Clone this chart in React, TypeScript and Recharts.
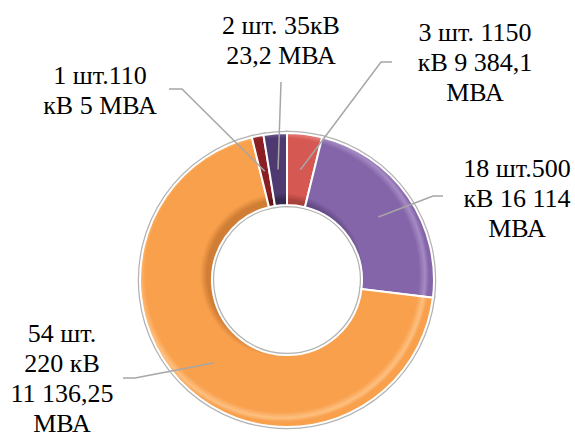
import React from 'react';
import { PieChart, Pie, Cell } from 'recharts';

// Categories (slice order, clockwise from 12 o'clock)
const categories = ['1150 кВ', '500 кВ', '220 кВ', '110 кВ', '35 кВ'];
// Number of units (drives slice size)
const counts = [3, 18, 54, 1, 2];
// Label text lines
const labelLines = [
  ['3 шт. 1150', 'кВ 9 384,1', 'МВА'],
  ['18 шт.500', 'кВ 16 114', 'МВА'],
  ['54 шт.', '220 кВ', '11 136,25', 'МВА'],
  ['1 шт.110', 'кВ 5 МВА'],
  ['2 шт. 35кВ', '23,2 МВА'],
];
const colors = ['#D65853', '#8565A9', '#F9A04D', '#8B1E22', '#4E3A70'];
const darkColors = ['#A8403C', '#634A85', '#D07E35', '#641417', '#37284F'];
const lightColors = ['#E98581', '#A58BC4', '#FDC080', '#B0474A', '#7A66A0'];

// Label layout (text center x, first baseline y, elbow, end of leader)
const labelLayout = [
  { tx: 475, ty: 41, ex: 381, ey: 62, hx: 392 },
  { tx: 517, ty: 177, ex: 433, ey: 196, hx: 443 },
  { tx: 62, ty: 342, ex: 135, ey: 378, hx: 123 },
  { tx: 100, ty: 84, ex: 182, ey: 89, hx: 169 },
  { tx: 281, ty: 34, ex: 281, ey: 82, hx: 281 },
];

const data = categories.map((c, i) => ({ name: c, count: counts[i] }));

const RAD = Math.PI / 180;
const FONT = 'Liberation Serif, Times New Roman, serif';

const renderLabel = (props: any) => {
  const { cx, cy, midAngle, innerRadius, outerRadius, index } = props;
  const r = (innerRadius + outerRadius) / 2;
  const px = cx + r * Math.cos(-midAngle * RAD);
  const py = cy + r * Math.sin(-midAngle * RAD);
  const L = labelLayout[index];
  const lines = labelLines[index];
  return (
    <g key={`lbl-${index}`}>
      <polyline
        points={`${px},${py} ${L.ex},${L.ey} ${L.hx},${L.ey}`}
        fill="none"
        stroke="#A6A6A6"
        strokeWidth={1.5}
      />
      {lines.map((ln, k) => (
        <text
          key={k}
          x={L.tx}
          y={L.ty + k * 30}
          textAnchor="middle"
          style={{ fontFamily: FONT, fontSize: 26 }}
          fill="#000"
        >
          {ln}
        </text>
      ))}
    </g>
  );
};

const CX = 282;
const CY = 275;
const R_IN = 75;
const R_OUT = 147;

export default function App() {
  return (
    <div style={{ position: 'absolute', left: 0, top: 0, width: 575, height: 432, background: '#fff' }}>
      <PieChart width={575} height={432}>
        <defs>
          {colors.map((c, i) => (
            <radialGradient
              key={i}
              id={`grad${i}`}
              gradientUnits="userSpaceOnUse"
              cx={CX}
              cy={CY}
              r={R_OUT}
            >
              <stop offset={R_IN / R_OUT} stopColor={darkColors[i]} />
              <stop offset={(R_IN + 7) / R_OUT} stopColor={c} />
              <stop offset={(R_OUT - 10) / R_OUT} stopColor={c} />
              <stop offset={(R_OUT - 4) / R_OUT} stopColor={lightColors[i]} />
              <stop offset={1} stopColor={c} />
            </radialGradient>
          ))}
        </defs>
        <Pie
          data={data}
          dataKey="count"
          nameKey="name"
          cx={CX}
          cy={CY}
          innerRadius={R_IN}
          outerRadius={R_OUT}
          startAngle={90}
          endAngle={-270}
          stroke="#B3B3B3"
          strokeWidth={4.5}
          label={false}
          labelLine={false}
          isAnimationActive={false}
        >
          {data.map((d, i) => (
            <Cell key={d.name} fill={colors[i]} />
          ))}
        </Pie>
        <Pie
          data={data}
          dataKey="count"
          nameKey="name"
          cx={CX}
          cy={CY}
          innerRadius={R_IN}
          outerRadius={R_OUT}
          startAngle={90}
          endAngle={-270}
          stroke="#FFFFFF"
          strokeWidth={2}
          label={renderLabel}
          labelLine={false}
          isAnimationActive={false}
        >
          {data.map((d, i) => (
            <Cell key={d.name} fill={`url(#grad${i})`} />
          ))}
        </Pie>
      </PieChart>
    </div>
  );
}
